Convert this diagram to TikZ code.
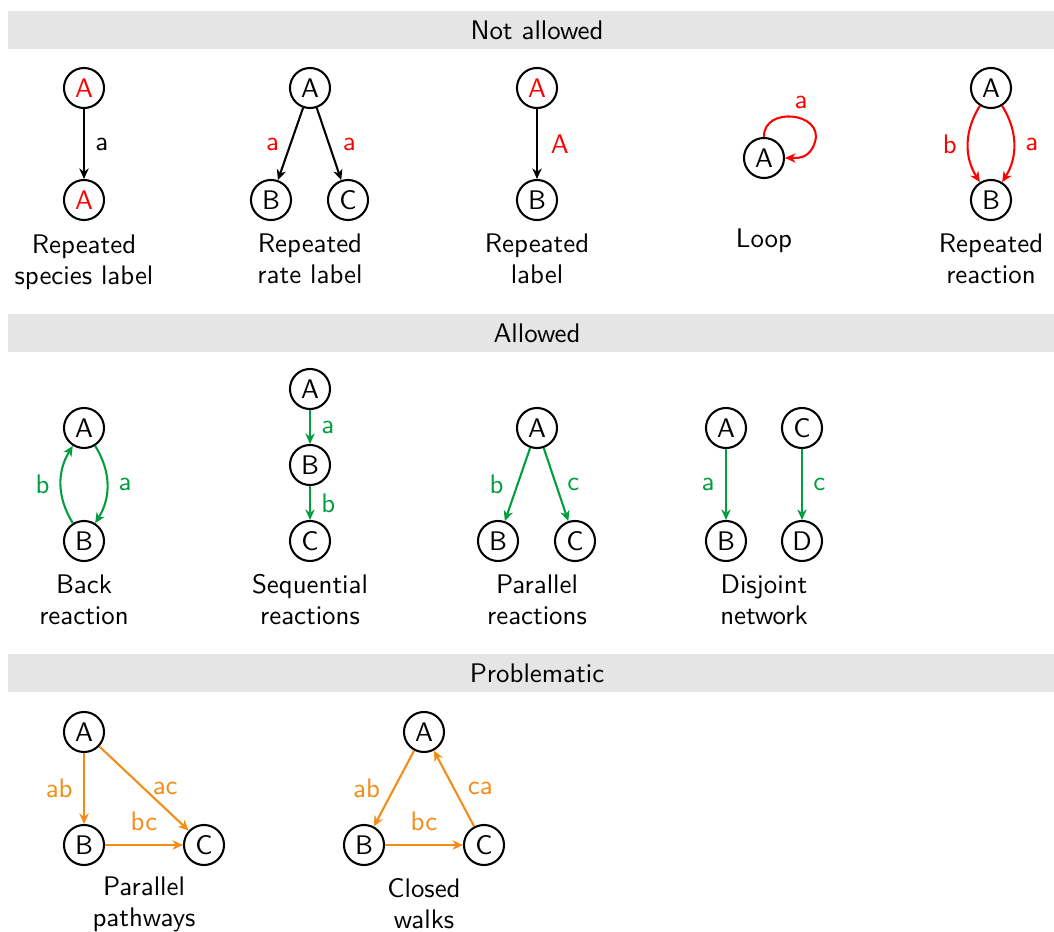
\documentclass[tikz,border=0pt]{standalone}
\usetikzlibrary{arrows.meta}
\definecolor{barg}{RGB}{229,229,229}
\definecolor{okg}{RGB}{0,158,60}
\definecolor{probo}{RGB}{243,140,20}
\definecolor{badr}{RGB}{255,0,0}
\begin{document}
\begin{tikzpicture}[x=0.387pt,y=0.387pt,font=\sffamily\fontsize{10.4}{12}\selectfont,
  sp/.style={circle,draw,line width=0.8pt,minimum size=15.5pt,inner sep=0pt},
  arr/.style={line width=0.8pt,-{Stealth[length=4pt,width=3.6pt,inset=1.2pt]}},
  lab/.style={inner sep=2pt},
  captxt/.style={align=center},
  bar/.style={fill=barg,draw=none},
  ttl/.style={inner sep=0pt}]
\useasboundingbox (0,0) rectangle (1054,-932);
% section bars
\fill[bar] (8,-11) rectangle (1054,-49);
\node[ttl] (t1) at (537,-30) {Not allowed};
\fill[bar] (8,-314) rectangle (1054,-352);
\node[ttl] (t2) at (537,-333) {Allowed};
\fill[bar] (8,-654) rectangle (1054,-692);
\node[ttl] (t3) at (537,-673) {Problematic};

% ---------- Not allowed ----------
% repeated species label
\node[sp,text=badr] (a1) at (84,-88) {A};
\node[sp,text=badr] (a2) at (84,-200) {A};
\draw[arr] (a1) -- node[lab,right=2pt] {a} (a2);
\node[captxt] (c1) at (84,-262) {Repeated\\species label};
% repeated rate label
\node[sp] (b1) at (310,-88) {A};
\node[sp] (b2) at (271,-200) {B};
\node[sp] (b3) at (348,-200) {C};
\draw[arr] (b1) -- node[lab,left=2pt,text=badr] {a} (b2);
\draw[arr] (b1) -- node[lab,right=3pt,text=badr] {a} (b3);
\node[captxt] (c2) at (310,-259) {Repeated\\rate label};
% repeated label
\node[sp,text=badr] (d1) at (537,-88) {A};
\node[sp] (d2) at (537,-200) {B};
\draw[arr] (d1) -- node[lab,right=3pt,text=badr] {A} (d2);
\node[captxt] (c3) at (537,-259) {Repeated\\label};
% loop
\node[sp] (e1) at (764,-158) {A};
\coordinate (e2) at (815,-142);
\draw[arr,badr] (e1.north) .. controls (763,-106) and (824,-112) .. (e2)
  .. controls (810,-158) and (800,-158) .. (e1.east);
\node[lab,text=badr] (el) at (801,-102) {a};
\node[captxt] (c4) at (764,-241) {Loop};
% repeated reaction
\node[sp] (f1) at (991,-88) {A};
\node[sp] (f2) at (991,-200) {B};
\draw[arr,badr] (f1) to[bend right=32] node[lab,left=2pt] {b} (f2);
\draw[arr,badr] (f1) to[bend left=32] node[lab,right=2pt] {a} (f2);
\node[captxt] (c5) at (991,-259) {Repeated\\reaction};

% ---------- Allowed ----------
% back reaction
\node[sp] (g1) at (84,-428) {A};
\node[sp] (g2) at (84,-541) {B};
\draw[arr,okg] (g1) to[bend left=32] node[lab,right=2pt] {a} (g2);
\draw[arr,okg] (g2) to[bend left=32] node[lab,left=2pt] {b} (g1);
\node[captxt] (c6) at (84,-600) {Back\\reaction};
% sequential
\node[sp] (h1) at (310,-389) {A};
\node[sp] (h2) at (310,-465) {B};
\node[sp] (h3) at (310,-541) {C};
\draw[arr,okg] (h1) -- node[lab,right=2pt] {a} (h2);
\draw[arr,okg] (h2) -- node[lab,right=2pt] {b} (h3);
\node[captxt] (c7) at (310,-600) {Sequential\\reactions};
% parallel reactions
\node[sp] (i1) at (537,-428) {A};
\node[sp] (i2) at (498,-541) {B};
\node[sp] (i3) at (575,-541) {C};
\draw[arr,okg] (i1) -- node[lab,left=3pt] {b} (i2);
\draw[arr,okg] (i1) -- node[lab,right=2pt] {c} (i3);
\node[captxt] (c8) at (537,-600) {Parallel\\reactions};
% disjoint
\node[sp] (j1) at (726,-428) {A};
\node[sp] (j2) at (726,-541) {B};
\node[sp] (j3) at (802,-428) {C};
\node[sp] (j4) at (802,-541) {D};
\draw[arr,okg] (j1) -- node[lab,left=2pt] {a} (j2);
\draw[arr,okg] (j3) -- node[lab,right=2pt] {c} (j4);
\node[captxt] (c9) at (764,-600) {Disjoint\\network};

% ---------- Problematic ----------
% parallel pathways
\node[sp] (k1) at (84,-732) {A};
\node[sp] (k2) at (84,-845) {B};
\node[sp] (k3) at (204,-845) {C};
\draw[arr,probo] (k1) -- node[lab,left=2pt] {ab} (k2);
\draw[arr,probo] (k1) -- node[lab,right=1pt] {ac} (k3);
\draw[arr,probo] (k2) -- node[lab,above=3pt] {bc} (k3);
\node[captxt] (c10) at (144,-904) {Parallel\\pathways};
% closed walks
\node[sp] (m1) at (424,-732) {A};
\node[sp] (m2) at (364,-845) {B};
\node[sp] (m3) at (484,-845) {C};
\draw[arr,probo] (m1) -- node[lab,left=3pt] {ab} (m2);
\draw[arr,probo] (m2) -- node[lab,above=3pt] {bc} (m3);
\draw[arr,probo] (m3) -- node[lab,right=3pt] {ca} (m1);
\node[captxt] (c11) at (424,-904) {Closed\\walks};
\end{tikzpicture}
\end{document}
